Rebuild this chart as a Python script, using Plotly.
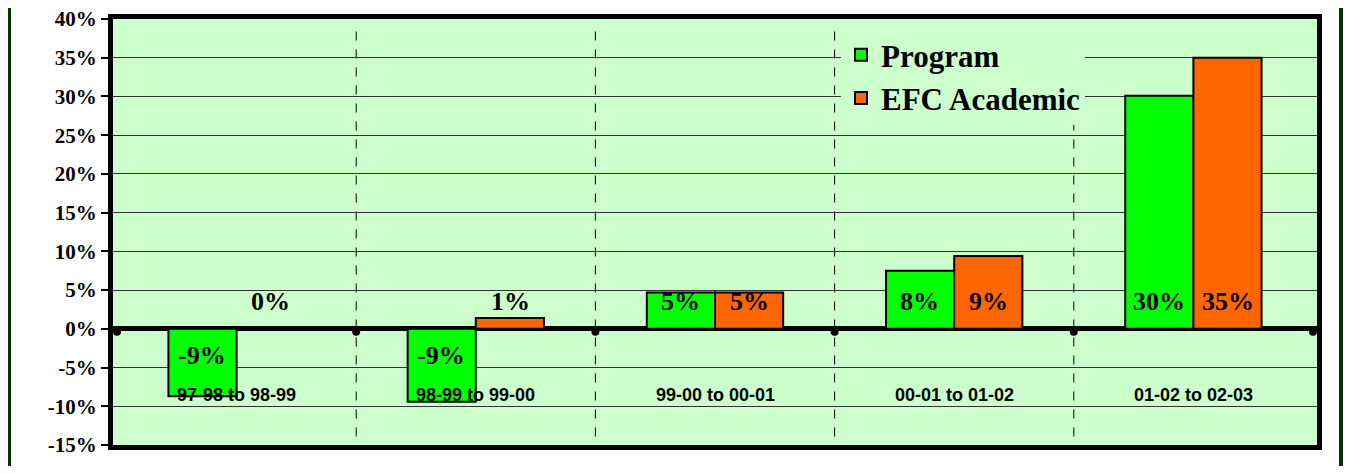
import plotly.graph_objects as go

categories = ["97-98 to 98-99", "98-99 to 99-00", "99-00 to 00-01", "00-01 to 01-02", "01-02 to 02-03"]
program = [-8.7, -9.4, 4.7, 7.5, 30.1]
efc_academic = [0.0, 1.4, 4.7, 9.4, 35.0]
series_names = ["Program", "EFC Academic"]
y_ticks = [-15, -10, -5, 0, 5, 10, 15, 20, 25, 30, 35, 40]

# page body has an 8px default margin, so the figure is offset by 8px
OFF = 8
W, H = 1351 - OFF, 474 - 2 * OFF
ML = 113 - OFF
MT = 19 - OFF
MR = W - (1317 - OFF)
MB = H - (445 - OFF)
pw = W - ML - MR
ph = H - MT - MB
bargap = 0.43
bar_px = pw / len(categories) * (1 - bargap) / 2

fig = go.Figure()
fig.add_trace(go.Bar(x=categories, y=program, name=series_names[0],
                     marker=dict(color="#00FF00", line=dict(color="black", width=2))))
fig.add_trace(go.Bar(x=categories, y=efc_academic, name=series_names[1],
                     marker=dict(color="#FF6600", line=dict(color="black", width=2))))

annotations = []
for vals, sign in ((program, -1), (efc_academic, 1)):
    for c, v in zip(categories, vals):
        annotations.append(dict(
            x=c, y=0, xref="x", yref="y", text=f"{round(v):.0f}%", showarrow=False,
            xshift=sign * bar_px / 2, yshift=27 if v >= 0 else -27,
            font=dict(family="Liberation Serif", size=26, color="black", weight="bold")))
for c in categories:
    annotations.append(dict(
        x=c, y=-8.6, xref="x", yref="y", text=c, showarrow=False,
        font=dict(family="Liberation Sans", size=18, color="black", weight="bold")))

shapes = []
for i in range(len(categories) - 1):
    shapes.append(dict(type="line", xref="x", yref="paper", x0=i + 0.5, x1=i + 0.5,
                       y0=0.02, y1=0.99, line=dict(color="black", width=1, dash="dash"),
                       layer="below"))
for i in range(len(categories) + 1):
    shapes.append(dict(type="circle", xref="x", yref="y", xsizemode="pixel", ysizemode="pixel",
                       xanchor=i - 0.5, yanchor=0, x0=-4, x1=4, y0=-7, y1=1,
                       fillcolor="black", line=dict(color="black", width=0), layer="above"))
# outer dark green frame edges
for px in (9 - OFF, 1341 - OFF):
    xp = (px - ML) / pw
    shapes.append(dict(type="line", xref="paper", yref="paper", x0=xp, x1=xp,
                       y0=-(MB + 10) / ph, y1=1 + (MT + 10) / ph,
                       line=dict(color="#003300", width=4)))

fig.update_layout(
    width=W, height=H,
    margin=dict(l=ML, r=MR, t=MT, b=MB, autoexpand=False),
    paper_bgcolor="white", plot_bgcolor="#CCFFCC",
    barmode="group", bargap=bargap, bargroupgap=0,
    showlegend=True,
    legend=dict(x=(833 - ML) / pw, y=1 - (20 - MT) / ph, xanchor="left", yanchor="top",
                bgcolor="#CCFFCC", borderwidth=0,
                font=dict(family="Liberation Serif", size=31, color="black", weight="bold")),
    annotations=annotations, shapes=shapes,
)
fig.update_xaxes(type="category", showgrid=False, showticklabels=False, ticks="",
                 automargin=False,
                 showline=True, linecolor="black", linewidth=5, mirror=True)
fig.update_yaxes(range=[-15, 40], tickvals=y_ticks, ticktext=[f"{t}%" for t in y_ticks],
                 automargin=False, ticklabeloverflow="allow",
                 showgrid=True, gridcolor="#333333", gridwidth=1,
                 zeroline=True, zerolinecolor="black", zerolinewidth=5,
                 ticks="outside", ticklen=7, tickcolor="black", tickwidth=1.5,
                 showline=True, linecolor="black", linewidth=5, mirror=True,
                 tickfont=dict(family="Liberation Serif", size=21, color="black", weight="bold"))

fig.write_html("out.html")
